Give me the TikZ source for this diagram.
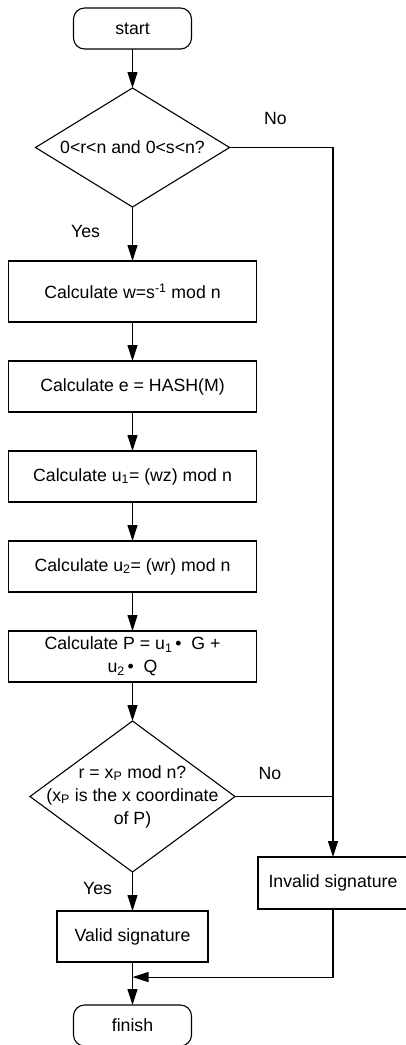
\documentclass[tikz,border=0pt]{standalone}
\usepackage{fontspec}
\setmainfont{Liberation Sans}
\usetikzlibrary{positioning,arrows.meta,calc,shapes.geometric}

\begin{document}
\begin{tikzpicture}[
  node distance=39pt, line width=1.1pt, >={Triangle[length=16pt,width=10pt]},
  font=\fontsize{17.7pt}{23pt}\selectfont,
  every node/.style={outer sep=0pt},
  term/.style={draw, rounded corners=11pt, minimum width=118pt, minimum height=41pt},
  calcbox/.style={draw, align=center, minimum width=248pt, minimum height=51pt, inner sep=2pt},
  cond/.style={draw, diamond, align=center, inner sep=0pt},
  lbl/.style={inner sep=0pt},
]
\useasboundingbox (0,0) rectangle (406pt,-1045pt);
\node[term] (start) at (132.5pt,-28.5pt) {start};
\node[cond, below=of start, minimum width=194pt, minimum height=119pt, aspect=1.63] (chk) {0<r<n and 0<s<n?};
\node[calcbox, below=54pt of chk, minimum height=61pt] (cw) {Calculate w=s\textsuperscript{-1} mod n};
\node[calcbox, below=of cw] (ce) {Calculate e = HASH(M)};
\node[calcbox, below=of ce] (cu1) {Calculate u\textsubscript{1}= (wz) mod n};
\node[calcbox, below=of cu1] (cu2) {Calculate u\textsubscript{2}= (wr) mod n};
\node[calcbox, below=of cu2] (cP) {Calculate P = u\textsubscript{1}\,•\ \ G +\\u\textsubscript{2}\,•\ \ Q};
\node[cond, below=of cP, minimum width=205pt, minimum height=151pt, aspect=1.36,
  inner xsep=-20pt, inner ysep=-25pt] (cmp) {r = x\textsubscript{P} mod n?\\(x\textsubscript{P} is the x coordinate\\of P)};
\node[calcbox, below=of cmp, minimum width=151pt, minimum height=51pt] (valid) {Valid signature};
\node[calcbox, right=50pt of valid, yshift=53.5pt, minimum width=150pt, minimum height=52pt] (invalid) {Invalid signature};
\node[term, below=43pt of valid] (finish) {finish};

% labels
\node[lbl] (no1) at ([shift={(46pt,29pt)}]chk.east) {No};
\node[lbl] (yes1) at ([shift={(-47pt,-24pt)}]chk.south) {Yes};
\node[lbl] (no2) at ([shift={(35pt,23pt)}]cmp.east) {No};
\node[lbl] (yes2) at ([shift={(-35pt,-16pt)}]cmp.south) {Yes};

% main flow
\draw[->] (start) -- (chk);
\draw[->] (chk) -- (cw);
\draw[->] (cw) -- (ce);
\draw[->] (ce) -- (cu1);
\draw[->] (cu1) -- (cu2);
\draw[->] (cu2) -- (cP);
\draw[->] (cP) -- (cmp);
\draw[->] (cmp) -- (valid);
\draw[->] (valid) -- (finish);

% failure branch
\draw[->] (chk.east) -| (invalid.north);
\draw (cmp.east) -- (cmp.east -| invalid.north);
\coordinate (join) at ($(valid.south)!0.35!(finish.north)$);
\draw[->] (invalid.south) |- (join);
\end{tikzpicture}
\end{document}
